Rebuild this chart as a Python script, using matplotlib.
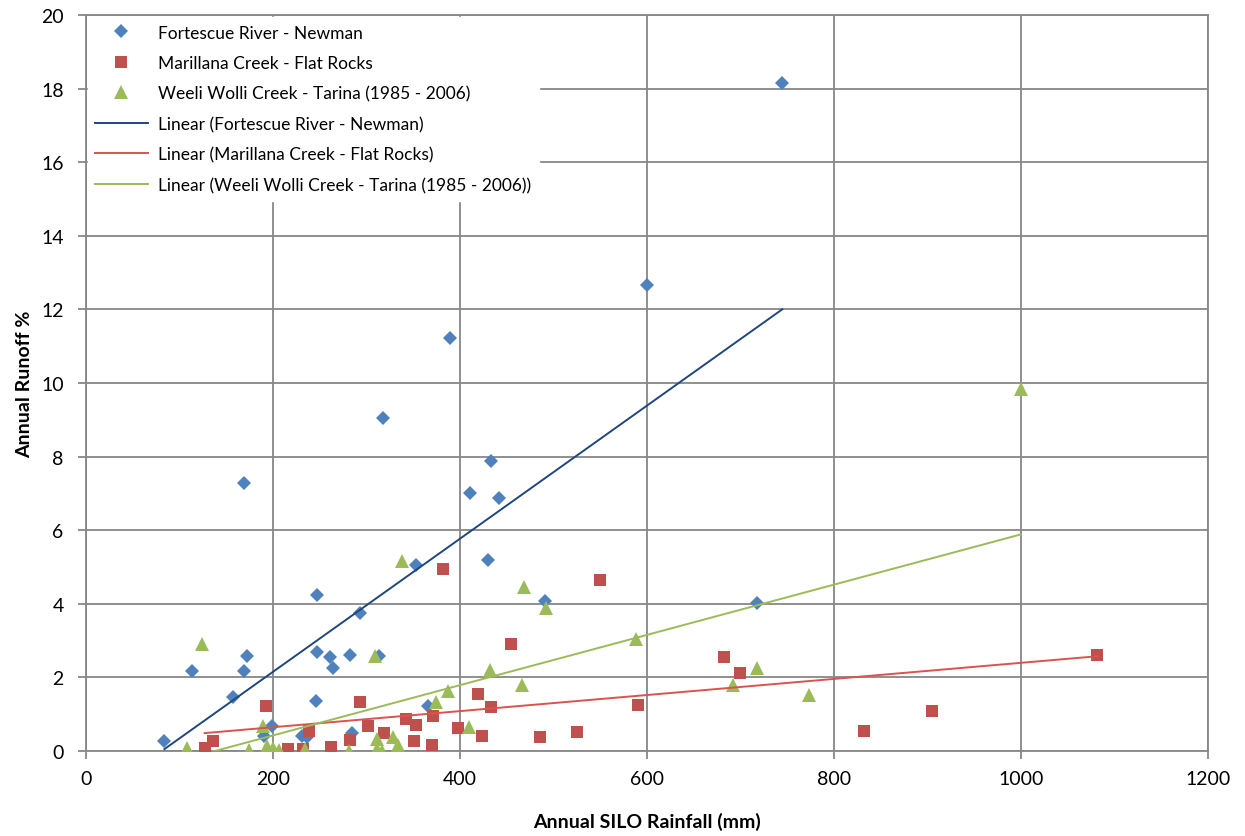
import numpy as np
import matplotlib
matplotlib.use("Agg")
import matplotlib.pyplot as plt

plt.rcParams['font.family'] = ['Lato', 'DejaVu Sans']

# Fortescue River - Newman
fort_rain = [84, 114, 157, 169, 169, 172, 191, 199, 231, 236, 246, 247, 247, 261,
             264, 282, 285, 293, 314, 318, 353, 366, 390, 411, 430, 433, 442, 491,
             600, 718, 745]
fort_runoff = [0.27, 2.17, 1.47, 7.28, 2.17, 2.58, 0.4, 0.68, 0.41, 0.38, 1.36, 4.24, 2.68, 2.55,
               2.25, 2.61, 0.5, 3.74, 2.58, 9.05, 5.05, 1.22, 11.22, 7.01, 5.2, 7.88, 6.88, 4.08,
               12.66, 4.02, 18.15]

# Marillana Creek - Flat Rocks
mar_rain = [127, 136, 193, 216, 232, 239, 262, 282, 293, 302, 319, 342, 351, 353,
            370, 371, 382, 398, 419, 424, 433, 455, 486, 525, 550, 591, 683, 700,
            832, 905, 1082]
mar_runoff = [0.08, 0.27, 1.22, 0.05, 0.05, 0.54, 0.11, 0.3, 1.33, 0.68, 0.49, 0.87, 0.27, 0.71,
              0.16, 0.95, 4.94, 0.62, 1.55, 0.42, 1.19, 2.9, 0.39, 0.51, 4.65, 1.25, 2.56, 2.12,
              0.55, 1.09, 2.6]

# Weeli Wolli Creek - Tarina (1985 - 2006)
wee_rain = [108, 124, 175, 189, 194, 200, 207, 234, 281, 309, 311, 311, 317, 328,
            334, 338, 374, 387, 410, 432, 466, 469, 492, 589, 692, 718, 774, 1000]
wee_runoff = [0.07, 2.9, 0.03, 0.68, 0.14, 0.08, 0.03, 0.05, 0.0, 2.59, 0.33, 0.05, 0.0, 0.38,
              0.16, 5.17, 1.33, 1.63, 0.65, 2.2, 1.79, 4.45, 3.88, 3.05, 1.8, 2.25, 1.53, 9.84]

series = [
    ("Fortescue River - Newman", fort_rain, fort_runoff, 'D', 7.5, '#4F81BD', '#1F477D'),
    ("Marillana Creek - Flat Rocks", mar_rain, mar_runoff, 's', 8.5, '#C0504D', '#D9534F'),
    ("Weeli Wolli Creek - Tarina (1985 - 2006)", wee_rain, wee_runoff, '^', 9.5, '#9BBB59', '#9BBB59'),
]

fig = plt.figure(figsize=(12.45, 8.37), dpi=100)
ax = fig.add_axes([0.069, 0.1016, 0.901, 0.8793])

marker_handles = []
line_handles = []
for name, x, y, mk, ms, col, lcol in series:
    h, = ax.plot(x, y, linestyle='none', marker=mk, markersize=ms, color=col,
                 markeredgewidth=0, label=name, zorder=3)
    marker_handles.append(h)

# excel style linear trendlines, over the data range
for name, x, y, mk, ms, col, lcol in series:
    k, b = np.polyfit(x, y, 1)
    xs = np.array([min(x), max(x)])
    h, = ax.plot(xs, k * xs + b, color=lcol, linewidth=1.4, zorder=4,
                 label="Linear (" + name + ")")
    line_handles.append(h)

ax.set_xlim(0, 1200)
ax.set_ylim(0, 20)
ax.set_xticks(range(0, 1201, 200))
ax.set_yticks(range(0, 21, 2))
ax.grid(True, color='#878787', linewidth=1.3, zorder=0)
ax.set_axisbelow(True)
for s in ax.spines.values():
    s.set_color('#878787')
    s.set_linewidth(1.3)
ax.tick_params(axis='both', labelsize=14, color='#878787', length=6, width=1.3)
ax.tick_params(axis='y', pad=10)
ax.tick_params(axis='x', pad=8)

ax.set_xlabel("Annual SILO Rainfall (mm)", fontsize=14, fontweight='bold', labelpad=18)
ax.set_ylabel("Annual Runoff %", fontsize=14, fontweight='bold', labelpad=6)

leg = ax.legend(handles=marker_handles + line_handles, loc='upper left',
                fontsize=12.5, frameon=True, facecolor='white', edgecolor='white',
                framealpha=1, fancybox=False, handlelength=3.0, labelspacing=0.83,
                borderaxespad=0.1, handletextpad=0.6, borderpad=0.45)
leg.set_zorder(5)

fig.savefig("out.png", dpi=100)
